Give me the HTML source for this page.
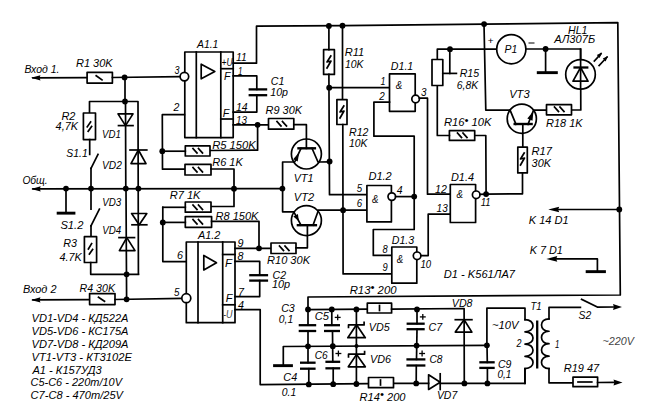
<!DOCTYPE html>
<html><head><meta charset="utf-8"><style>
html,body{margin:0;padding:0;background:#fff;overflow:hidden;width:649px;height:411px;}
svg{display:block;}
text{font-family:"Liberation Sans",sans-serif;font-style:italic;fill:#000;stroke:none;}
text.light{fill:#444;stroke:none;}
</style></head><body>
<svg width="649" height="411" viewBox="0 0 649 411" stroke="#000" stroke-linejoin="round" stroke-linecap="square">
<rect x="0" y="0" width="649" height="411" fill="#fff" stroke="none"/>
<text x="24.4" y="73.3" textLength="35.0" lengthAdjust="spacingAndGlyphs" style="font-size:10.6px">Вход 1.</text>
<polyline points="33.0,77.8 87.1,77.6" fill="none" stroke-width="1.7"/>
<polygon points="31.0,77.8 40.5,75.2 39.5,77.8 40.5,80.4" fill="#000" stroke="none"/>
<rect x="87.1" y="72.3" width="25.3" height="10.8" fill="#fff" stroke-width="1.7"/>
<polyline points="96.2,75.8 102.0,79.9" fill="none" stroke-width="1.7"/>
<text x="76.0" y="67.1" textLength="36.6" lengthAdjust="spacingAndGlyphs" style="font-size:10.6px">R1 30K</text>
<polyline points="112.4,77.5 180.0,76.6" fill="none" stroke-width="1.7"/>
<circle cx="124.6" cy="77.4" r="2.9" fill="#000" stroke="none"/>
<polyline points="125.0,77.4 125.0,101.5" fill="none" stroke-width="1.7"/>
<circle cx="125.0" cy="101.5" r="2.9" fill="#000" stroke="none"/>
<polyline points="89.5,113.0 89.5,101.5 138.0,101.5 138.4,274.2" fill="none" stroke-width="1.7"/>
<rect x="83.4" y="113.0" width="12.1" height="26.6" fill="#fff" stroke-width="1.7"/>
<polyline points="87.2,126.9 90.6,122.0" fill="none" stroke-width="1.7"/>
<polyline points="88.2,131.3 91.6,126.4" fill="none" stroke-width="1.7"/>
<polyline points="89.7,139.6 89.7,154.4" fill="none" stroke-width="1.7"/>
<polyline points="91.0,168.4 98.0,154.4" fill="none" stroke-width="1.7"/>
<polyline points="91.0,168.4 91.0,188.5" fill="none" stroke-width="1.7"/>
<text x="61.4" y="119.7" textLength="14.0" lengthAdjust="spacingAndGlyphs" style="font-size:10.6px">R2</text>
<text x="55.6" y="129.8" textLength="22.4" lengthAdjust="spacingAndGlyphs" style="font-size:10.6px">4,7K</text>
<text x="102.0" y="137.6" textLength="18.8" lengthAdjust="spacingAndGlyphs" style="font-size:10.6px">VD1</text>
<text x="66.3" y="157.4" textLength="21.4" lengthAdjust="spacingAndGlyphs" style="font-size:10.6px">S1.1</text>
<text x="102.0" y="169.1" textLength="19.8" lengthAdjust="spacingAndGlyphs" style="font-size:10.6px">VD2</text>
<polygon points="118.0,113.9 133.0,113.9 125.5,125.6" fill="none" stroke-width="1.7"/>
<polyline points="118.5,125.6 133.0,125.6" fill="none" stroke-width="1.7"/>
<polyline points="125.5,101.5 125.8,188.5" fill="none" stroke-width="1.7"/>
<polyline points="130.0,150.0 146.8,150.0" fill="none" stroke-width="1.7"/>
<polygon points="131.0,163.6 146.0,163.6 138.4,150.0" fill="none" stroke-width="1.7"/>
<polyline points="33.0,188.9 282.3,188.6" fill="none" stroke-width="1.7"/>
<polygon points="31.2,188.9 40.7,186.3 39.8,188.9 40.7,191.5" fill="#000" stroke="none"/>
<text x="22.4" y="183.5" textLength="25.3" lengthAdjust="spacingAndGlyphs" style="font-size:10.6px">Общ.</text>
<circle cx="66.0" cy="188.6" r="2.9" fill="#000" stroke="none"/>
<circle cx="91.0" cy="188.6" r="2.9" fill="#000" stroke="none"/>
<circle cx="125.8" cy="188.6" r="2.9" fill="#000" stroke="none"/>
<circle cx="138.4" cy="188.6" r="2.9" fill="#000" stroke="none"/>
<circle cx="234.0" cy="188.7" r="2.9" fill="#000" stroke="none"/>
<circle cx="282.4" cy="188.6" r="2.9" fill="#000" stroke="none"/>
<polyline points="66.0,188.6 66.0,213.0" fill="none" stroke-width="1.7"/>
<rect x="56.7" y="211.7" width="18.7" height="2.9" fill="#000" stroke="none"/>
<polyline points="91.0,188.5 91.0,209.2" fill="none" stroke-width="1.7"/>
<polyline points="91.0,225.8 99.4,209.2" fill="none" stroke-width="1.7"/>
<polyline points="91.0,225.8 91.0,236.6" fill="none" stroke-width="1.7"/>
<text x="102.3" y="206.3" textLength="19.0" lengthAdjust="spacingAndGlyphs" style="font-size:10.6px">VD3</text>
<text x="60.4" y="228.7" textLength="23.0" lengthAdjust="spacingAndGlyphs" style="font-size:10.6px">S1.2</text>
<text x="102.3" y="233.6" textLength="19.0" lengthAdjust="spacingAndGlyphs" style="font-size:10.6px">VD4</text>
<rect x="84.4" y="236.7" width="12.2" height="25.8" fill="#fff" stroke-width="1.7"/>
<polyline points="88.4,249.0 91.6,243.6" fill="none" stroke-width="1.7"/>
<polyline points="89.4,254.1 92.6,249.5" fill="none" stroke-width="1.7"/>
<polyline points="90.7,262.5 90.7,274.3 138.4,274.3" fill="none" stroke-width="1.7"/>
<text x="63.3" y="247.1" textLength="13.7" lengthAdjust="spacingAndGlyphs" style="font-size:10.6px">R3</text>
<text x="59.4" y="260.8" textLength="22.4" lengthAdjust="spacingAndGlyphs" style="font-size:10.6px">4.7K</text>
<polygon points="131.6,213.5 146.8,213.5 139.2,224.8" fill="none" stroke-width="1.7"/>
<polyline points="132.0,224.8 146.8,224.8" fill="none" stroke-width="1.7"/>
<polyline points="119.0,237.6 134.5,237.6" fill="none" stroke-width="1.7"/>
<polygon points="119.4,250.6 135.0,250.6 126.8,237.6" fill="none" stroke-width="1.7"/>
<polyline points="126.0,188.5 126.6,299.3" fill="none" stroke-width="1.7"/>
<circle cx="126.6" cy="274.3" r="2.9" fill="#000" stroke="none"/>
<circle cx="126.6" cy="299.3" r="2.9" fill="#000" stroke="none"/>
<polyline points="33.0,299.9 89.6,299.7" fill="none" stroke-width="1.7"/>
<polygon points="31.0,299.9 40.5,297.3 39.5,299.9 40.5,302.5" fill="#000" stroke="none"/>
<rect x="89.6" y="293.6" width="25.4" height="11.0" fill="#fff" stroke-width="1.7"/>
<polyline points="98.5,297.3 104.5,301.3" fill="none" stroke-width="1.7"/>
<polyline points="115.0,299.5 182.0,298.4" fill="none" stroke-width="1.7"/>
<text x="23.0" y="293.3" textLength="33.5" lengthAdjust="spacingAndGlyphs" style="font-size:10.6px">Вход 2</text>
<text x="79.5" y="291.9" textLength="35.5" lengthAdjust="spacingAndGlyphs" style="font-size:10.6px">R4 30K</text>
<text x="31.5" y="321.9" textLength="97.0" lengthAdjust="spacingAndGlyphs" style="font-size:10.9px">VD1-VD4 - КД522А</text>
<text x="31.5" y="334.9" textLength="97.0" lengthAdjust="spacingAndGlyphs" style="font-size:10.9px">VD5-VD6 - КС175А</text>
<text x="31.5" y="347.8" textLength="97.0" lengthAdjust="spacingAndGlyphs" style="font-size:10.9px">VD7-VD8 - КД209А</text>
<text x="31.5" y="360.8" textLength="100.4" lengthAdjust="spacingAndGlyphs" style="font-size:10.9px">VT1-VT3 - КТ3102Е</text>
<text x="32.4" y="374.2" textLength="69.3" lengthAdjust="spacingAndGlyphs" style="font-size:10.9px">А1 - К157УД3</text>
<text x="30.5" y="386.3" textLength="91.5" lengthAdjust="spacingAndGlyphs" style="font-size:10.9px">С5-С6 - 220m/10V</text>
<text x="30.5" y="399.3" textLength="92.5" lengthAdjust="spacingAndGlyphs" style="font-size:10.9px">С7-С8 - 470m/25V</text>
<rect x="184.8" y="52.0" width="48.4" height="85.6" fill="#fff" stroke-width="1.7"/>
<polyline points="196.3,52.0 196.3,137.6" fill="none" stroke-width="1.7"/>
<polyline points="220.8,52.0 220.8,137.6" fill="none" stroke-width="1.7"/>
<polyline points="220.8,68.7 233.2,68.7" fill="none" stroke-width="1.7"/>
<polyline points="220.8,119.0 233.2,119.0" fill="none" stroke-width="1.7"/>
<circle cx="184.4" cy="76.6" r="4.3" fill="#fff" stroke-width="1.7"/>
<polygon points="201.2,64.2 201.2,78.8 214.8,71.5" fill="none" stroke-width="1.7"/>
<text x="197.0" y="48.1" textLength="21.4" lengthAdjust="spacingAndGlyphs" style="font-size:10.6px">A1.1</text>
<text x="221.5" y="66.1" textLength="11.0" lengthAdjust="spacingAndGlyphs" style="font-size:10px">+U</text>
<text x="224.0" y="80.3" textLength="6.5" lengthAdjust="spacingAndGlyphs" style="font-size:10.6px">F</text>
<text x="222.7" y="116.9" textLength="6.5" lengthAdjust="spacingAndGlyphs" style="font-size:10.6px">F</text>
<text x="236.0" y="61.3" textLength="10.7" lengthAdjust="spacingAndGlyphs" style="font-size:10.6px">11</text>
<text x="238.0" y="74.8" textLength="4.5" lengthAdjust="spacingAndGlyphs" style="font-size:10.6px">1</text>
<text x="236.0" y="110.9" textLength="11.7" lengthAdjust="spacingAndGlyphs" style="font-size:10.6px">14</text>
<text x="236.0" y="124.1" textLength="11.0" lengthAdjust="spacingAndGlyphs" style="font-size:10.6px">13</text>
<text x="173.6" y="111.1" textLength="5.9" lengthAdjust="spacingAndGlyphs" style="font-size:10.6px">2</text>
<text x="174.6" y="73.9" textLength="5.0" lengthAdjust="spacingAndGlyphs" style="font-size:10.6px">3</text>
<polyline points="233.2,63.2 256.5,63.2 256.5,26.2 342.5,25.7 484.0,24.1 617.8,22.6 620.3,295.0 308.0,297.0 308.0,309.6" fill="none" stroke-width="1.7"/>
<polyline points="233.2,75.9 256.8,75.9 256.8,89.4" fill="none" stroke-width="1.7"/>
<polyline points="248.6,89.4 267.2,89.4" fill="none" stroke-width="2.3" stroke-linecap="butt"/>
<polyline points="248.6,95.2 267.2,95.2" fill="none" stroke-width="2.3" stroke-linecap="butt"/>
<polyline points="256.8,95.2 256.8,112.1 233.2,112.1" fill="none" stroke-width="1.7"/>
<text x="270.8" y="84.9" textLength="13.6" lengthAdjust="spacingAndGlyphs" style="font-size:10.6px">C1</text>
<text x="270.3" y="95.5" textLength="17.7" lengthAdjust="spacingAndGlyphs" style="font-size:10.6px">10p</text>
<polyline points="233.2,124.8 268.5,124.8" fill="none" stroke-width="1.7"/>
<circle cx="257.6" cy="124.8" r="2.9" fill="#000" stroke="none"/>
<rect x="268.5" y="118.5" width="25.3" height="10.7" fill="#fff" stroke-width="1.7"/>
<polyline points="277.0,121.5 281.0,126.0" fill="none" stroke-width="1.7"/>
<polyline points="282.5,121.5 286.5,126.0" fill="none" stroke-width="1.7"/>
<text x="265.6" y="114.3" textLength="36.4" lengthAdjust="spacingAndGlyphs" style="font-size:10.6px">R9 30K</text>
<polyline points="257.6,124.8 257.6,150.2 210.0,150.5" fill="none" stroke-width="1.7"/>
<polyline points="184.4,114.7 162.3,114.7 162.5,169.2 185.0,169.2" fill="none" stroke-width="1.7"/>
<rect x="185.3" y="145.8" width="24.7" height="10.2" fill="#fff" stroke-width="1.7"/>
<polyline points="162.3,151.2 185.3,151.2" fill="none" stroke-width="1.7"/>
<circle cx="162.3" cy="151.2" r="2.9" fill="#000" stroke="none"/>
<polyline points="193.0,148.5 197.0,153.0" fill="none" stroke-width="1.7"/>
<polyline points="198.5,148.5 202.5,153.0" fill="none" stroke-width="1.7"/>
<rect x="185.0" y="164.4" width="26.0" height="10.6" fill="#fff" stroke-width="1.7"/>
<polyline points="193.0,167.5 197.0,172.0" fill="none" stroke-width="1.7"/>
<polyline points="198.5,167.5 202.5,172.0" fill="none" stroke-width="1.7"/>
<polyline points="211.0,169.0 234.0,169.0 234.0,206.5 211.0,206.5" fill="none" stroke-width="1.7"/>
<text x="212.2" y="148.9" textLength="43.6" lengthAdjust="spacingAndGlyphs" style="font-size:10.6px">R5 150K</text>
<text x="212.2" y="166.0" textLength="30.6" lengthAdjust="spacingAndGlyphs" style="font-size:10.6px">R6 1K</text>
<rect x="185.3" y="202.0" width="25.7" height="10.2" fill="#fff" stroke-width="1.7"/>
<polyline points="193.0,205.0 197.0,209.5" fill="none" stroke-width="1.7"/>
<polyline points="198.5,205.0 202.5,209.5" fill="none" stroke-width="1.7"/>
<polyline points="162.8,207.3 185.3,207.3" fill="none" stroke-width="1.7"/>
<text x="169.7" y="199.1" textLength="30.8" lengthAdjust="spacingAndGlyphs" style="font-size:10.6px">R7 1K</text>
<rect x="185.3" y="216.6" width="26.3" height="10.7" fill="#fff" stroke-width="1.7"/>
<polyline points="193.0,219.5 197.0,224.0" fill="none" stroke-width="1.7"/>
<polyline points="198.5,219.5 202.5,224.0" fill="none" stroke-width="1.7"/>
<polyline points="162.8,222.4 185.3,222.4" fill="none" stroke-width="1.7"/>
<circle cx="162.8" cy="222.4" r="2.9" fill="#000" stroke="none"/>
<polyline points="211.6,221.4 259.0,221.4 259.0,248.3" fill="none" stroke-width="1.7"/>
<polyline points="162.8,207.3 162.8,261.6 186.3,261.6" fill="none" stroke-width="1.7"/>
<text x="215.5" y="219.8" textLength="43.0" lengthAdjust="spacingAndGlyphs" style="font-size:10.6px">R8 150K</text>
<rect x="186.3" y="242.0" width="48.7" height="80.7" fill="#fff" stroke-width="1.7"/>
<polyline points="198.0,242.0 198.0,322.7" fill="none" stroke-width="1.7"/>
<polyline points="222.7,242.0 222.7,322.7" fill="none" stroke-width="1.7"/>
<polyline points="222.7,254.5 235.0,254.5" fill="none" stroke-width="1.7"/>
<polyline points="222.7,304.8 235.0,304.8" fill="none" stroke-width="1.7"/>
<polygon points="203.8,255.5 203.8,270.0 216.5,262.8" fill="none" stroke-width="1.7"/>
<circle cx="186.3" cy="298.2" r="4.5" fill="#fff" stroke-width="1.7"/>
<text x="198.0" y="238.9" textLength="22.4" lengthAdjust="spacingAndGlyphs" style="font-size:10.6px">A1.2</text>
<text x="237.5" y="247.1" textLength="6.0" lengthAdjust="spacingAndGlyphs" style="font-size:10.6px">9</text>
<text x="237.5" y="260.3" textLength="6.0" lengthAdjust="spacingAndGlyphs" style="font-size:10.6px">8</text>
<text x="177.0" y="258.7" textLength="6.0" lengthAdjust="spacingAndGlyphs" style="font-size:10.6px">6</text>
<text x="225.0" y="266.5" textLength="7.0" lengthAdjust="spacingAndGlyphs" style="font-size:10.6px">F</text>
<text x="238.0" y="296.0" textLength="6.0" lengthAdjust="spacingAndGlyphs" style="font-size:10.6px">7</text>
<text x="225.8" y="301.6" textLength="6.7" lengthAdjust="spacingAndGlyphs" style="font-size:10.6px">F</text>
<text x="238.0" y="309.0" textLength="6.0" lengthAdjust="spacingAndGlyphs" style="font-size:10.6px">4</text>
<text x="223.0" y="317.6" textLength="9.5" lengthAdjust="spacingAndGlyphs" class="light" style="font-size:10px">-U</text>
<text x="174.0" y="296.0" textLength="5.5" lengthAdjust="spacingAndGlyphs" style="font-size:10.6px">5</text>
<polyline points="235.0,248.3 271.0,248.3" fill="none" stroke-width="1.7"/>
<circle cx="259.0" cy="248.3" r="2.9" fill="#000" stroke="none"/>
<rect x="271.0" y="243.0" width="25.0" height="10.5" fill="#fff" stroke-width="1.7"/>
<polyline points="279.5,246.0 283.5,250.5" fill="none" stroke-width="1.7"/>
<polyline points="285.0,246.0 289.0,250.5" fill="none" stroke-width="1.7"/>
<polyline points="235.0,261.4 259.7,261.4 259.7,275.2" fill="none" stroke-width="1.7"/>
<polyline points="249.2,275.2 268.1,275.2" fill="none" stroke-width="2.3" stroke-linecap="butt"/>
<polyline points="249.2,280.6 268.1,280.6" fill="none" stroke-width="2.3" stroke-linecap="butt"/>
<polyline points="259.7,280.6 259.7,296.6 235.0,296.6" fill="none" stroke-width="1.7"/>
<text x="272.5" y="279.1" textLength="13.6" lengthAdjust="spacingAndGlyphs" style="font-size:10.6px">C2</text>
<text x="272.0" y="288.1" textLength="18.2" lengthAdjust="spacingAndGlyphs" style="font-size:10.6px">10p</text>
<text x="267.1" y="264.4" textLength="42.9" lengthAdjust="spacingAndGlyphs" style="font-size:10.6px">R10 30K</text>
<polyline points="235.0,309.7 260.2,309.7 260.2,384.6 368.5,383.6" fill="none" stroke-width="1.7"/>
<circle cx="306.4" cy="154.0" r="15" fill="#fff" stroke-width="1.7"/>
<polyline points="297.3,148.3 316.1,148.3" fill="none" stroke-width="2.4" stroke-linecap="butt"/>
<polyline points="306.4,148.3 306.4,124.7 293.8,124.7" fill="none" stroke-width="1.7"/>
<polyline points="301.0,148.3 294.7,162.0 282.6,162.0 282.6,211.8 293.8,211.8" fill="none" stroke-width="1.7"/>
<polygon points="299.2,152.2 297.7,161.4 293.2,159.3" fill="#000" stroke="none"/>
<polyline points="312.0,148.3 318.0,162.0 329.8,161.8" fill="none" stroke-width="1.7"/>
<text x="293.8" y="182.0" textLength="19.6" lengthAdjust="spacingAndGlyphs" style="font-size:10.6px">VT1</text>
<text x="293.8" y="201.2" textLength="20.4" lengthAdjust="spacingAndGlyphs" style="font-size:10.6px">VT2</text>
<circle cx="306.4" cy="220.6" r="15" fill="#fff" stroke-width="1.7"/>
<polyline points="296.7,225.2 317.1,225.2" fill="none" stroke-width="2.4" stroke-linecap="butt"/>
<polyline points="307.4,225.2 307.4,247.8 296.0,247.8" fill="none" stroke-width="1.7"/>
<polyline points="301.0,225.2 293.8,211.8" fill="none" stroke-width="1.7"/>
<polygon points="298.9,221.3 293.3,216.4 297.9,213.9" fill="#000" stroke="none"/>
<polyline points="313.0,225.2 318.0,211.5 318.0,210.2 366.5,210.2" fill="none" stroke-width="1.7"/>
<circle cx="343.1" cy="210.2" r="2.9" fill="#000" stroke="none"/>
<circle cx="328.9" cy="25.9" r="2.9" fill="#000" stroke="none"/>
<circle cx="342.5" cy="25.7" r="2.9" fill="#000" stroke="none"/>
<circle cx="484.1" cy="24.1" r="2.9" fill="#000" stroke="none"/>
<rect x="323.6" y="49.7" width="10.8" height="24.7" fill="#fff" stroke-width="1.7"/>
<polyline points="330.8,56.0 327.0,62.0 331.0,61.0 327.0,68.0" fill="none" stroke-width="1.7"/>
<polyline points="328.9,25.9 328.9,49.7" fill="none" stroke-width="1.7"/>
<polyline points="328.9,74.4 329.5,194.7 366.9,194.7" fill="none" stroke-width="1.7"/>
<circle cx="329.2" cy="87.7" r="2.9" fill="#000" stroke="none"/>
<circle cx="329.6" cy="161.5" r="2.9" fill="#000" stroke="none"/>
<text x="344.7" y="56.2" textLength="19.5" lengthAdjust="spacingAndGlyphs" style="font-size:10.6px">R11</text>
<text x="345.0" y="68.3" textLength="18.6" lengthAdjust="spacingAndGlyphs" style="font-size:10.6px">10K</text>
<polyline points="342.5,25.7 342.5,99.6" fill="none" stroke-width="1.7"/>
<rect x="336.9" y="99.6" width="10.1" height="24.9" fill="#fff" stroke-width="1.7"/>
<polyline points="343.8,106.0 340.0,112.0 344.0,111.0 340.0,118.0" fill="none" stroke-width="1.7"/>
<polyline points="342.8,124.5 343.1,273.9 391.8,273.9" fill="none" stroke-width="1.7"/>
<text x="349.0" y="136.1" textLength="19.4" lengthAdjust="spacingAndGlyphs" style="font-size:10.6px">R12</text>
<text x="349.0" y="146.7" textLength="18.5" lengthAdjust="spacingAndGlyphs" style="font-size:10.6px">10K</text>
<polyline points="329.2,87.7 389.5,87.7" fill="none" stroke-width="1.7"/>
<rect x="389.5" y="73.9" width="25.7" height="37.4" fill="#fff" stroke-width="1.7"/>
<circle cx="415.6" cy="99.0" r="3.8" fill="#fff" stroke-width="1.7"/>
<polyline points="419.4,98.2 427.5,98.2 427.5,194.2 450.3,194.2" fill="none" stroke-width="1.7"/>
<polyline points="389.5,102.1 373.9,102.1 373.9,136.2 414.2,136.2 414.2,229.5 373.3,229.5 373.3,255.4 391.8,255.4" fill="none" stroke-width="1.7"/>
<circle cx="414.2" cy="196.6" r="2.9" fill="#000" stroke="none"/>
<text x="390.8" y="69.5" textLength="22.5" lengthAdjust="spacingAndGlyphs" style="font-size:10.6px">D1.1</text>
<text x="380.5" y="84.5" textLength="5.0" lengthAdjust="spacingAndGlyphs" style="font-size:10.6px">1</text>
<text x="379.2" y="99.5" textLength="5.5" lengthAdjust="spacingAndGlyphs" style="font-size:10.6px">2</text>
<text x="421.0" y="95.6" textLength="5.5" lengthAdjust="spacingAndGlyphs" style="font-size:10.6px">3</text>
<text x="395.7" y="89.3" textLength="6.5" lengthAdjust="spacingAndGlyphs" style="font-size:10.6px">&amp;</text>
<rect x="366.9" y="185.5" width="24.5" height="36.4" fill="#fff" stroke-width="1.7"/>
<circle cx="391.8" cy="196.6" r="3.8" fill="#fff" stroke-width="1.7"/>
<polyline points="395.6,196.6 414.2,196.6" fill="none" stroke-width="1.7"/>
<text x="368.4" y="180.0" textLength="23.4" lengthAdjust="spacingAndGlyphs" style="font-size:10.6px">D1.2</text>
<text x="356.8" y="192.3" textLength="5.4" lengthAdjust="spacingAndGlyphs" style="font-size:10.6px">5</text>
<text x="356.8" y="207.3" textLength="5.4" lengthAdjust="spacingAndGlyphs" style="font-size:10.6px">6</text>
<text x="396.7" y="194.2" textLength="5.8" lengthAdjust="spacingAndGlyphs" style="font-size:10.6px">4</text>
<text x="372.0" y="202.8" textLength="6.5" lengthAdjust="spacingAndGlyphs" style="font-size:10.6px">&amp;</text>
<rect x="391.8" y="247.0" width="25.0" height="36.2" fill="#fff" stroke-width="1.7"/>
<circle cx="417.1" cy="255.8" r="3.8" fill="#fff" stroke-width="1.7"/>
<polyline points="420.9,255.6 428.2,255.6 428.2,214.1 450.3,214.1" fill="none" stroke-width="1.7"/>
<text x="391.8" y="244.0" textLength="22.4" lengthAdjust="spacingAndGlyphs" style="font-size:10.6px">D1.3</text>
<text x="382.5" y="253.3" textLength="5.2" lengthAdjust="spacingAndGlyphs" style="font-size:10.6px">8</text>
<text x="382.5" y="271.3" textLength="5.2" lengthAdjust="spacingAndGlyphs" style="font-size:10.6px">9</text>
<text x="420.5" y="267.6" textLength="10.7" lengthAdjust="spacingAndGlyphs" style="font-size:10.6px">10</text>
<text x="396.7" y="262.5" textLength="6.5" lengthAdjust="spacingAndGlyphs" style="font-size:10.6px">&amp;</text>
<rect x="450.3" y="184.5" width="25.3" height="38.0" fill="#fff" stroke-width="1.7"/>
<circle cx="476.2" cy="194.8" r="3.8" fill="#fff" stroke-width="1.7"/>
<polyline points="480.0,194.4 486.1,194.1 522.5,193.8 522.5,172.9" fill="none" stroke-width="1.7"/>
<circle cx="486.1" cy="194.1" r="2.9" fill="#000" stroke="none"/>
<polyline points="486.1,194.1 485.8,135.5 474.7,135.5" fill="none" stroke-width="1.7"/>
<text x="451.0" y="180.5" textLength="23.0" lengthAdjust="spacingAndGlyphs" style="font-size:10.6px">D1.4</text>
<text x="435.0" y="192.6" textLength="11.8" lengthAdjust="spacingAndGlyphs" style="font-size:10.6px">12</text>
<text x="436.6" y="212.4" textLength="11.1" lengthAdjust="spacingAndGlyphs" style="font-size:10.6px">13</text>
<text x="480.8" y="206.1" textLength="9.8" lengthAdjust="spacingAndGlyphs" style="font-size:10.6px">11</text>
<text x="456.5" y="198.3" textLength="6.5" lengthAdjust="spacingAndGlyphs" style="font-size:10.6px">&amp;</text>
<rect x="449.4" y="130.7" width="25.3" height="9.7" fill="#fff" stroke-width="1.7"/>
<polyline points="457.5,133.0 461.5,137.5" fill="none" stroke-width="1.7"/>
<polyline points="463.0,133.0 467.0,137.5" fill="none" stroke-width="1.7"/>
<polyline points="437.3,85.8 437.3,135.5 449.4,135.5" fill="none" stroke-width="1.7"/>
<text x="443.9" y="126.1" textLength="47.7" lengthAdjust="spacingAndGlyphs" style="font-size:10.6px">R16<tspan dy="-2.6">•</tspan><tspan dy="2.6"> 10K</tspan></text>
<polyline points="484.0,23.9 485.8,110.2 510.1,110.2" fill="none" stroke-width="1.7"/>
<polyline points="437.3,59.0 437.3,49.2 496.7,49.2" fill="none" stroke-width="1.7"/>
<circle cx="511.3" cy="49.2" r="14.6" fill="#fff" stroke-width="1.7"/>
<text x="504.5" y="53.0" textLength="12.7" lengthAdjust="spacingAndGlyphs" style="font-size:10.6px">P1</text>
<polyline points="525.9,49.0 580.6,49.0 580.8,110.0 571.5,110.0" fill="none" stroke-width="1.7"/>
<rect x="432.0" y="59.5" width="10.8" height="26.0" fill="#fff" stroke-width="1.7"/>
<circle cx="450.0" cy="49.2" r="2.9" fill="#000" stroke="none"/>
<polyline points="449.8,49.2 449.8,73.4" fill="none" stroke-width="1.7"/>
<polyline points="442.8,73.4 456.4,73.4" fill="none" stroke-width="1.7"/>
<text x="459.7" y="77.2" textLength="19.5" lengthAdjust="spacingAndGlyphs" style="font-size:10.6px">R15</text>
<text x="456.8" y="88.9" textLength="21.4" lengthAdjust="spacingAndGlyphs" style="font-size:10.6px">6,8K</text>
<text x="487.5" y="44.3" textLength="6.0" lengthAdjust="spacingAndGlyphs" style="font-size:9px">+</text>
<polyline points="529.0,43.0 534.0,43.0" fill="none" stroke-width="1"/>
<circle cx="545.6" cy="49.0" r="2.9" fill="#000" stroke="none"/>
<polyline points="545.6,49.0 545.6,72.7" fill="none" stroke-width="1.7"/>
<rect x="536.8" y="71.2" width="21.0" height="2.9" fill="#000" stroke="none"/>
<text x="568.0" y="34.1" textLength="19.4" lengthAdjust="spacingAndGlyphs" style="font-size:10.6px">HL1</text>
<text x="554.3" y="43.0" textLength="40.9" lengthAdjust="spacingAndGlyphs" style="font-size:10.6px">АЛ307Б</text>
<circle cx="580.5" cy="74.4" r="14.8" fill="#fff" stroke-width="1.7"/>
<polyline points="573.4,67.5 588.4,67.5" fill="none" stroke-width="2.3" stroke-linecap="butt"/>
<polygon points="573.0,81.2 588.0,81.2 580.6,67.5" fill="none" stroke-width="1.7"/>
<polyline points="580.6,49.0 580.6,89.0" fill="none" stroke-width="1.7"/>
<polyline points="594.3,61.0 601.0,53.8" fill="none" stroke-width="1.7"/>
<polygon points="602.0,52.6 596.8,55.0 599.6,58.0" fill="#000" stroke="none"/>
<polyline points="599.1,65.5 607.0,57.1" fill="none" stroke-width="1.7"/>
<polygon points="608.0,56.0 602.8,58.4 605.6,61.4" fill="#000" stroke="none"/>
<circle cx="521.8" cy="118.7" r="14.6" fill="#fff" stroke-width="1.7"/>
<polyline points="513.5,124.0 532.8,124.0" fill="none" stroke-width="2.4" stroke-linecap="butt"/>
<polyline points="522.8,124.4 522.8,147.2" fill="none" stroke-width="1.7"/>
<polyline points="516.0,124.4 510.1,110.2" fill="none" stroke-width="1.7"/>
<polyline points="528.0,124.4 533.5,110.2 546.5,110.2" fill="none" stroke-width="1.7"/>
<polygon points="533.4,111.3 532.5,120.7 527.3,118.5" fill="#000" stroke="none"/>
<text x="509.2" y="97.8" textLength="20.4" lengthAdjust="spacingAndGlyphs" style="font-size:10.6px">VT3</text>
<rect x="546.5" y="104.7" width="25.0" height="10.1" fill="#fff" stroke-width="1.7"/>
<polyline points="554.5,107.0 558.5,111.5" fill="none" stroke-width="1.7"/>
<polyline points="560.0,107.0 564.0,111.5" fill="none" stroke-width="1.7"/>
<text x="546.1" y="126.8" textLength="36.5" lengthAdjust="spacingAndGlyphs" style="font-size:10.6px">R18 1K</text>
<rect x="517.8" y="147.1" width="9.5" height="25.8" fill="#fff" stroke-width="1.7"/>
<polyline points="524.2,153.0 520.5,159.0 524.5,158.0 520.5,165.0" fill="none" stroke-width="1.7"/>
<text x="531.6" y="155.3" textLength="20.4" lengthAdjust="spacingAndGlyphs" style="font-size:10.6px">R17</text>
<text x="531.6" y="167.3" textLength="19.4" lengthAdjust="spacingAndGlyphs" style="font-size:10.6px">30K</text>
<circle cx="619.3" cy="209.5" r="2.9" fill="#000" stroke="none"/>
<polyline points="619.3,209.5 556.0,209.5" fill="none" stroke-width="1.7"/>
<polygon points="548.2,209.5 559.2,206.7 558.1,209.5 559.2,212.3" fill="#000" stroke="none"/>
<text x="528.7" y="224.4" textLength="40.0" lengthAdjust="spacingAndGlyphs" style="font-size:10.6px">K 14 D1</text>
<text x="529.7" y="254.1" textLength="33.1" lengthAdjust="spacingAndGlyphs" style="font-size:10.6px">K 7 D1</text>
<polyline points="555.0,258.9 597.4,258.9 597.4,271.6" fill="none" stroke-width="1.7"/>
<polygon points="546.3,258.9 557.3,256.1 556.2,258.9 557.3,261.7" fill="#000" stroke="none"/>
<rect x="585.7" y="270.2" width="20.2" height="2.9" fill="#000" stroke="none"/>
<text x="443.8" y="277.7" textLength="71.2" lengthAdjust="spacingAndGlyphs" style="font-size:10.6px">D1 - K561ЛА7</text>
<polyline points="308.0,309.6 367.3,309.2" fill="none" stroke-width="1.7"/>
<rect x="367.3" y="303.2" width="24.3" height="9.8" fill="#fff" stroke-width="1.7"/>
<polyline points="379.5,305.5 379.5,310.5" fill="none" stroke-width="1.7"/>
<polyline points="391.6,309.1 464.1,308.5 464.3,383.4" fill="none" stroke-width="1.7"/>
<circle cx="308.0" cy="309.4" r="2.9" fill="#000" stroke="none"/>
<circle cx="331.8" cy="309.4" r="2.9" fill="#000" stroke="none"/>
<circle cx="356.4" cy="309.4" r="2.9" fill="#000" stroke="none"/>
<circle cx="417.0" cy="309.4" r="2.9" fill="#000" stroke="none"/>
<polyline points="308.0,309.6 308.0,325.2" fill="none" stroke-width="1.7"/>
<polyline points="298.7,325.2 316.2,325.2" fill="none" stroke-width="2.3" stroke-linecap="butt"/>
<polyline points="298.7,331.0 316.2,331.0" fill="none" stroke-width="2.3" stroke-linecap="butt"/>
<polyline points="308.0,331.0 308.0,362.7" fill="none" stroke-width="1.7"/>
<polyline points="300.0,362.7 315.6,362.7" fill="none" stroke-width="2.3" stroke-linecap="butt"/>
<polyline points="300.0,368.7 315.6,368.7" fill="none" stroke-width="2.3" stroke-linecap="butt"/>
<polyline points="308.8,368.7 308.8,384.4" fill="none" stroke-width="1.7"/>
<polyline points="331.8,309.5 331.8,325.2" fill="none" stroke-width="1.7"/>
<polyline points="324.0,325.2 340.0,325.2" fill="none" stroke-width="2.3" stroke-linecap="butt"/>
<polyline points="324.0,331.0 340.0,331.0" fill="none" stroke-width="2.3" stroke-linecap="butt"/>
<polyline points="332.5,331.0 332.8,361.8" fill="none" stroke-width="1.7"/>
<polyline points="325.4,361.8 340.2,361.8" fill="none" stroke-width="2.3" stroke-linecap="butt"/>
<polyline points="325.4,368.3 340.2,368.3" fill="none" stroke-width="2.3" stroke-linecap="butt"/>
<polyline points="333.2,368.3 333.2,384.2" fill="none" stroke-width="1.7"/>
<polyline points="356.4,309.3 356.4,384.0" fill="none" stroke-width="1.7"/>
<polyline points="348.5,327.5 348.5,324.9 364.1,324.9 364.1,322.3" fill="none" stroke-width="1.7"/>
<polygon points="347.8,337.7 365.3,337.7 356.5,324.7" fill="none" stroke-width="1.7"/>
<polyline points="348.5,356.8 348.5,354.2 364.6,354.2 364.6,351.6" fill="none" stroke-width="1.7"/>
<polygon points="348.3,366.8 365.3,366.8 356.6,354.4" fill="none" stroke-width="1.7"/>
<polyline points="417.0,309.1 417.0,323.7" fill="none" stroke-width="1.7"/>
<polyline points="406.6,323.7 424.7,323.7" fill="none" stroke-width="2.3" stroke-linecap="butt"/>
<polyline points="406.6,329.2 424.7,329.2" fill="none" stroke-width="2.3" stroke-linecap="butt"/>
<polyline points="417.0,329.2 416.5,359.4" fill="none" stroke-width="1.7"/>
<polyline points="406.4,359.4 425.4,359.4" fill="none" stroke-width="2.3" stroke-linecap="butt"/>
<polyline points="406.4,365.5 425.4,365.5" fill="none" stroke-width="2.3" stroke-linecap="butt"/>
<polyline points="416.3,365.5 416.2,383.4" fill="none" stroke-width="1.7"/>
<polyline points="283.3,365.5 283.3,346.5 486.9,345.3" fill="none" stroke-width="1.7"/>
<rect x="273.1" y="364.2" width="19.8" height="2.9" fill="#000" stroke="none"/>
<circle cx="308.0" cy="346.3" r="2.9" fill="#000" stroke="none"/>
<circle cx="332.8" cy="346.2" r="2.9" fill="#000" stroke="none"/>
<circle cx="416.6" cy="345.6" r="2.9" fill="#000" stroke="none"/>
<circle cx="486.9" cy="345.3" r="2.9" fill="#000" stroke="none"/>
<circle cx="356.5" cy="346.1" r="2" fill="#000" stroke="none"/>
<polyline points="455.3,319.7 471.9,319.7" fill="none" stroke-width="1.7"/>
<polygon points="455.3,332.1 471.9,332.1 464.1,319.7" fill="none" stroke-width="1.7"/>
<polyline points="393.5,383.4 428.6,383.4" fill="none" stroke-width="1.7"/>
<polygon points="428.6,374.8 428.6,389.5 440.2,382.2" fill="none" stroke-width="1.7"/>
<polyline points="440.2,373.8 440.2,389.5" fill="none" stroke-width="1.7"/>
<polyline points="440.2,383.4 524.9,383.4 524.9,369.2" fill="none" stroke-width="1.7"/>
<rect x="368.5" y="377.5" width="25.0" height="10.2" fill="#fff" stroke-width="1.7"/>
<polyline points="380.5,380.0 380.5,385.0" fill="none" stroke-width="1.7"/>
<circle cx="308.8" cy="384.4" r="2.9" fill="#000" stroke="none"/>
<circle cx="333.2" cy="384.2" r="2.9" fill="#000" stroke="none"/>
<circle cx="356.4" cy="384.0" r="2.9" fill="#000" stroke="none"/>
<circle cx="416.2" cy="383.4" r="2.9" fill="#000" stroke="none"/>
<circle cx="464.4" cy="383.4" r="2.9" fill="#000" stroke="none"/>
<circle cx="487.4" cy="383.4" r="2.9" fill="#000" stroke="none"/>
<polyline points="487.0,345.3 487.3,362.3" fill="none" stroke-width="1.7"/>
<polyline points="479.3,362.3 494.7,362.3" fill="none" stroke-width="2.3" stroke-linecap="butt"/>
<polyline points="479.3,367.9 494.7,367.9" fill="none" stroke-width="2.3" stroke-linecap="butt"/>
<polyline points="487.4,367.9 487.4,383.4" fill="none" stroke-width="1.7"/>
<polyline points="486.9,345.3 486.9,308.2 525.0,308.2 525.0,319.6" fill="none" stroke-width="1.7"/>
<path d="M525,319.6 C535.67,319.60 535.67,331.85 525,331.85 C535.67,331.85 535.67,344.10 525,344.10 C535.67,344.10 535.67,356.35 525,356.35 C535.67,356.35 535.67,368.60 525,368.60" fill="none" stroke-width="1.7"/>
<polyline points="525.0,368.6 525.0,383.4" fill="none" stroke-width="1.7"/>
<polyline points="537.2,320.5 537.2,368.5" fill="none" stroke-width="2.3" stroke-linecap="butt"/>
<path d="M549,318.8 C539.00,318.80 539.00,331.25 549,331.25 C539.00,331.25 539.00,343.70 549,343.70 C539.00,343.70 539.00,356.15 549,356.15 C539.00,356.15 539.00,368.60 549,368.60" fill="none" stroke-width="1.7"/>
<polyline points="549.0,318.8 549.0,307.4 580.4,307.4" fill="none" stroke-width="1.7"/>
<polyline points="581.6,299.3 597.3,307.1 614.0,307.0" fill="none" stroke-width="1.7"/>
<polygon points="622.0,307.0 613.0,304.0 613.9,307.0 613.0,310.0" fill="#000" stroke="none"/>
<polyline points="549.0,368.6 549.0,382.8 573.0,382.8" fill="none" stroke-width="1.7"/>
<rect x="573.0" y="377.1" width="24.6" height="9.6" fill="#fff" stroke-width="1.7"/>
<polyline points="578.0,382.0 591.8,382.0" fill="none" stroke-width="1.7"/>
<polyline points="597.6,382.5 614.0,382.4" fill="none" stroke-width="1.7"/>
<polygon points="622.5,382.4 613.5,379.4 614.4,382.4 613.5,385.4" fill="#000" stroke="none"/>
<text x="281.2" y="312.4" textLength="13.6" lengthAdjust="spacingAndGlyphs" style="font-size:10.6px">C3</text>
<text x="278.8" y="323.2" textLength="14.4" lengthAdjust="spacingAndGlyphs" style="font-size:10.6px">0,1</text>
<text x="314.7" y="320.3" textLength="14.2" lengthAdjust="spacingAndGlyphs" style="font-size:10.6px">C5</text>
<text x="314.7" y="359.0" textLength="13.0" lengthAdjust="spacingAndGlyphs" style="font-size:10.6px">C6</text>
<text x="283.3" y="381.2" textLength="13.9" lengthAdjust="spacingAndGlyphs" style="font-size:10.6px">C4</text>
<text x="281.8" y="396.0" textLength="14.4" lengthAdjust="spacingAndGlyphs" style="font-size:10.6px">0.1</text>
<text x="349.7" y="293.8" textLength="46.8" lengthAdjust="spacingAndGlyphs" style="font-size:10.6px">R13<tspan dy="-2.6">•</tspan><tspan dy="2.6"> 200</tspan></text>
<text x="368.8" y="330.8" textLength="20.9" lengthAdjust="spacingAndGlyphs" style="font-size:10.6px">VD5</text>
<text x="428.6" y="331.4" textLength="13.7" lengthAdjust="spacingAndGlyphs" style="font-size:10.6px">C7</text>
<text x="370.0" y="363.0" textLength="21.0" lengthAdjust="spacingAndGlyphs" style="font-size:10.6px">VD6</text>
<text x="429.5" y="363.0" textLength="13.0" lengthAdjust="spacingAndGlyphs" style="font-size:10.6px">C8</text>
<text x="359.6" y="400.9" textLength="45.9" lengthAdjust="spacingAndGlyphs" style="font-size:10.6px">R14<tspan dy="-2.6">•</tspan><tspan dy="2.6"> 200</tspan></text>
<text x="436.9" y="399.1" textLength="20.3" lengthAdjust="spacingAndGlyphs" style="font-size:10.6px">VD7</text>
<text x="451.8" y="306.5" textLength="20.7" lengthAdjust="spacingAndGlyphs" style="font-size:10.6px">VD8</text>
<text x="492.0" y="328.5" textLength="26.6" lengthAdjust="spacingAndGlyphs" style="font-size:10.6px">~10V</text>
<text x="516.4" y="347.3" textLength="5.0" lengthAdjust="spacingAndGlyphs" style="font-size:10.6px">2</text>
<text x="530.5" y="310.1" textLength="11.2" lengthAdjust="spacingAndGlyphs" style="font-size:10.6px">T1</text>
<text x="555.0" y="347.7" textLength="4.4" lengthAdjust="spacingAndGlyphs" style="font-size:10.6px">1</text>
<text x="578.5" y="319.3" textLength="12.7" lengthAdjust="spacingAndGlyphs" style="font-size:10.6px">S2</text>
<text x="602.5" y="344.6" textLength="31.5" lengthAdjust="spacingAndGlyphs" class="light" style="font-size:10.6px">~220V</text>
<text x="497.9" y="367.7" textLength="13.5" lengthAdjust="spacingAndGlyphs" style="font-size:10.6px">C9</text>
<text x="497.5" y="377.8" textLength="13.9" lengthAdjust="spacingAndGlyphs" style="font-size:10.6px">0,1</text>
<text x="563.8" y="372.1" textLength="35.4" lengthAdjust="spacingAndGlyphs" style="font-size:10.6px">R19 47</text>
<polyline points="335.4,317.4 340.0,317.4" fill="none" stroke-width="1.3"/>
<polyline points="337.7,315.1 337.7,319.7" fill="none" stroke-width="1.3"/>
<polyline points="336.1,353.5 340.7,353.5" fill="none" stroke-width="1.3"/>
<polyline points="338.4,351.2 338.4,355.8" fill="none" stroke-width="1.3"/>
<polyline points="420.5,316.9 425.1,316.9" fill="none" stroke-width="1.3"/>
<polyline points="422.8,314.6 422.8,319.2" fill="none" stroke-width="1.3"/>
<polyline points="419.8,353.5 424.4,353.5" fill="none" stroke-width="1.3"/>
<polyline points="422.1,351.2 422.1,355.8" fill="none" stroke-width="1.3"/>
</svg></body></html>
